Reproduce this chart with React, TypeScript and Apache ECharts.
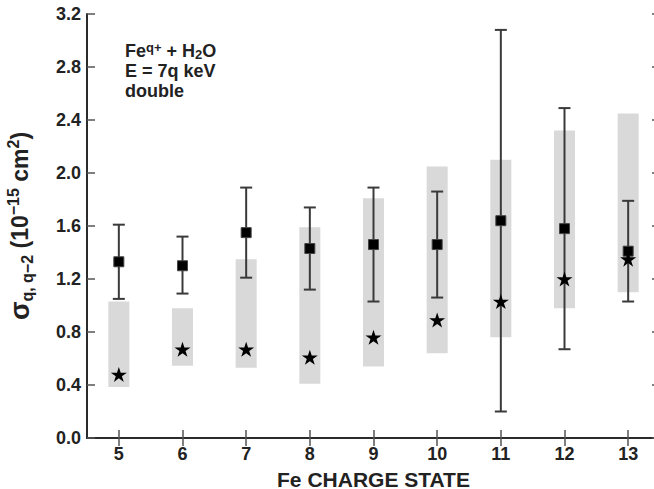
import React, { useEffect, useRef } from "react";
import * as echarts from "echarts";

const charge = [5, 6, 7, 8, 9, 10, 11, 12, 13];
const squareVal = [1.33, 1.3, 1.55, 1.43, 1.46, 1.46, 1.64, 1.58, 1.41];
const errLow = [1.05, 1.09, 1.21, 1.12, 1.03, 1.06, 0.2, 0.67, 1.03];
const errHigh = [1.61, 1.52, 1.89, 1.74, 1.89, 1.86, 3.08, 2.49, 1.79];
const starVal = [0.48, 0.67, 0.67, 0.61, 0.76, 0.89, 1.03, 1.2, 1.35];
const bandLow = [0.385, 0.545, 0.53, 0.41, 0.54, 0.64, 0.76, 0.98, 1.1];
const bandHigh = [1.03, 0.98, 1.35, 1.59, 1.81, 2.05, 2.1, 2.32, 2.45];
const yTicks = [0, 0.4, 0.8, 1.2, 1.6, 2.0, 2.4, 2.8, 3.2];

const FONT = "'Liberation Sans', Arial, Helvetica, sans-serif";
const STAR =
  "path://M100,0 L122.45,69.1 L195.1,69.1 L136.3,111.8 L158.8,180.9 L100,138.2 L41.2,180.9 L63.7,111.8 L4.9,69.1 L77.55,69.1 Z";

export default function App() {
  const ref = useRef<HTMLDivElement>(null);
  useEffect(() => {
    if (!ref.current) return;
    const chart = echarts.init(ref.current, null, { renderer: "svg" });
    const axisLine = { show: true, lineStyle: { color: "#2b2b2b", width: 2 } };
    const tickStyle = { color: "#555", width: 1.5 };
    const option: any = {
      animation: false,
      grid: { left: 87, top: 14, width: 573, height: 424, outerBoundsMode: "none", containLabel: false },
      xAxis: [
        {
          type: "value",
          position: "bottom",
          min: 4.5,
          max: 13.5,
          axisLine,
          axisTick: { show: true, inside: true, length: 8, lineStyle: tickStyle, customValues: charge },
          axisLabel: {
            customValues: charge,
            fontFamily: FONT,
            fontWeight: "bold",
            fontSize: 18,
            color: "#222",
            margin: 7,
          },
          splitLine: { show: false },
          name: "Fe CHARGE STATE",
          nameLocation: "middle",
          nameGap: 32,
          nameTextStyle: { fontFamily: FONT, fontWeight: "bold", fontSize: 21, lineHeight: 18, color: "#222" },
        },
        {
          type: "value",
          position: "top",
          min: 4.5,
          max: 13.5,
          axisLine,
          axisTick: { show: true, inside: true, length: 8, lineStyle: tickStyle, customValues: charge },
          axisLabel: { show: false },
          splitLine: { show: false },
        },
      ],
      yAxis: [
        {
          type: "value",
          position: "left",
          min: 0,
          max: 3.2,
          interval: 0.4,
          axisLine,
          axisTick: { show: true, inside: true, length: 8, lineStyle: tickStyle, customValues: yTicks },
          axisLabel: {
            customValues: yTicks,
            formatter: (v: number) => v.toFixed(1),
            fontFamily: FONT,
            fontWeight: "bold",
            fontSize: 18,
            color: "#222",
            margin: 6,
          },
          splitLine: { show: false },
          name: "{s|σ}{sub|q, q−2}{n| (10}{sup|−15}{n| cm}{sup|2}{n|)}",
          nameLocation: "middle",
          nameRotate: 90,
          nameGap: 52,
          nameTextStyle: {
            fontFamily: FONT,
            fontWeight: "bold",
            color: "#222",
            rich: {
              s: { fontFamily: FONT, fontWeight: "bold", fontSize: 27, lineHeight: 30, color: "#222" },
              n: { fontFamily: FONT, fontWeight: "bold", fontSize: 23, lineHeight: 30, color: "#222" },
              sub: { fontFamily: FONT, fontWeight: "bold", fontSize: 16, lineHeight: 14, verticalAlign: "bottom", color: "#222" },
              sup: { fontFamily: FONT, fontWeight: "bold", fontSize: 16, lineHeight: 14, verticalAlign: "top", color: "#222" },
            },
          },
        },
        {
          type: "value",
          position: "right",
          min: 0,
          max: 3.2,
          interval: 0.4,
          axisLine,
          axisTick: { show: true, inside: true, length: 8, lineStyle: tickStyle },
          axisLabel: { show: false },
          splitLine: { show: false },
        },
      ],
      series: [
        {
          type: "custom",
          name: "band",
          xAxisIndex: 0,
          yAxisIndex: 0,
          data: charge.map((c, i) => [c, bandLow[i], bandHigh[i]]),
          encode: { x: 0, y: [1, 2] },
          renderItem: (params: any, api: any) => {
            const x = api.value(0);
            const lo = api.coord([x, api.value(1)]);
            const hi = api.coord([x, api.value(2)]);
            const w = api.size([1, 0])[0] * 0.33;
            return {
              type: "rect",
              shape: { x: lo[0] - w / 2, y: hi[1], width: w, height: lo[1] - hi[1] },
              style: { fill: "#d9d9d9" },
            };
          },
          z: 1,
        },
        {
          type: "custom",
          name: "err",
          xAxisIndex: 0,
          yAxisIndex: 0,
          data: charge.map((c, i) => [c, errLow[i], errHigh[i]]),
          encode: { x: 0, y: [1, 2] },
          renderItem: (params: any, api: any) => {
            const x = api.value(0);
            const lo = api.coord([x, api.value(1)]);
            const hi = api.coord([x, api.value(2)]);
            const cw = 6;
            const st = { stroke: "#3a3a3a", lineWidth: 2 };
            return {
              type: "group",
              children: [
                { type: "line", shape: { x1: lo[0], y1: lo[1], x2: hi[0], y2: hi[1] }, style: st },
                { type: "line", shape: { x1: lo[0] - cw, y1: lo[1], x2: lo[0] + cw, y2: lo[1] }, style: st },
                { type: "line", shape: { x1: hi[0] - cw, y1: hi[1], x2: hi[0] + cw, y2: hi[1] }, style: st },
              ],
            };
          },
          z: 2,
        },
        {
          type: "scatter",
          name: "square",
          data: charge.map((c, i) => [c, squareVal[i]]),
          symbol: "rect",
          symbolSize: 10,
          itemStyle: { color: "#000", borderColor: "#444", borderWidth: 1, opacity: 1 },
          z: 3,
        },
        {
          type: "scatter",
          name: "star",
          data: charge.map((c, i) => [c, starVal[i]]),
          symbol: STAR,
          symbolSize: [16, 15],
          itemStyle: { color: "#000", opacity: 1 },
          z: 4,
        },
      ],
      graphic: [
        {
          type: "text",
          left: 125,
          top: 41,
          style: {
            text: "{n|Fe}{sup|q+}{n| + H}{sub|2}{n|O}\n{n|E = 7q keV}\n{n|double}",
            rich: {
              n: { fontFamily: FONT, fontWeight: "bold", fontSize: 18, lineHeight: 20, fill: "#222" },
              sup: { fontFamily: FONT, fontWeight: "bold", fontSize: 13, lineHeight: 10, verticalAlign: "top", fill: "#222" },
              sub: { fontFamily: FONT, fontWeight: "bold", fontSize: 13, lineHeight: 10, verticalAlign: "bottom", fill: "#222" },
            },
          },
        },
      ],
    };
    chart.setOption(option);
    return () => chart.dispose();
  }, []);
  return (
    <div style={{ position: "fixed", left: 0, top: 0, width: 654, height: 489, overflow: "hidden", background: "#fff" }}>
      <div ref={ref} style={{ width: 680, height: 489 }} />
    </div>
  );
}
